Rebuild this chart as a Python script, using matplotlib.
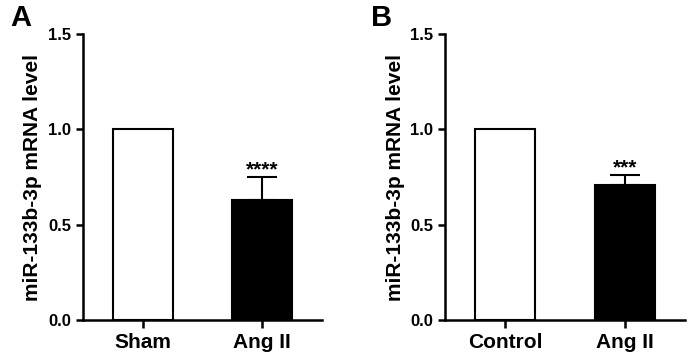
import numpy as np
import matplotlib.pyplot as plt

plt.rcParams['font.family'] = ['Liberation Sans', 'DejaVu Sans']
plt.rcParams['font.weight'] = 'bold'

groups_a = ['Sham', 'Ang II']
values_a = [1.0, 0.63]
errors_a = [0.0, 0.12]
stars_a = '****'

groups_b = ['Control', 'Ang II']
values_b = [1.0, 0.71]
errors_b = [0.0, 0.05]
stars_b = '***'

ylabel = 'miR-133b-3p mRNA level'


def draw(ax, groups, values, errors, stars):
    x = np.arange(len(groups))
    ax.bar(x, values, width=0.5, color=['white', 'black'], edgecolor='black', linewidth=1.5, zorder=2)
    ax.errorbar(x[1], values[1], yerr=[[0], [errors[1]]], fmt='none', ecolor='black',
                elinewidth=1.5, capsize=11, capthick=1.5, zorder=3)
    ax.text(x[1], values[1] + errors[1] - 0.01, stars, ha='center', va='bottom', fontsize=15, fontweight='bold')
    ax.set_xlim(-0.5, 1.5)
    ax.set_ylim(0, 1.5)
    ax.set_yticks([0, 0.5, 1.0, 1.5])
    ax.set_yticklabels(['0.0', '0.5', '1.0', '1.5'], fontsize=12, fontweight='bold')
    ax.set_xticks(x)
    ax.set_xticklabels(groups, fontsize=15, fontweight='bold')
    ax.set_ylabel(ylabel, fontsize=15, fontweight='bold', labelpad=4)
    ax.spines['top'].set_visible(False)
    ax.spines['right'].set_visible(False)
    ax.spines['left'].set_linewidth(1.8)
    ax.spines['bottom'].set_linewidth(1.8)
    ax.tick_params(axis='both', width=1.8, length=5, direction='out')
    ax.tick_params(axis='x', length=6, pad=3)


fig = plt.figure(figsize=(6.9, 3.58), dpi=100)
ax1 = fig.add_axes([0.120, 0.106, 0.347, 0.799])
ax2 = fig.add_axes([0.645, 0.106, 0.348, 0.799])
draw(ax1, groups_a, values_a, errors_a, stars_a)
draw(ax2, groups_b, values_b, errors_b, stars_b)
fig.text(10 / 690, 1 - 18 / 358, 'A', fontsize=21, fontweight='bold', va='center', ha='left')
fig.text(371 / 690, 1 - 18 / 358, 'B', fontsize=21, fontweight='bold', va='center', ha='left')
plt.savefig('out.png', dpi=100)
